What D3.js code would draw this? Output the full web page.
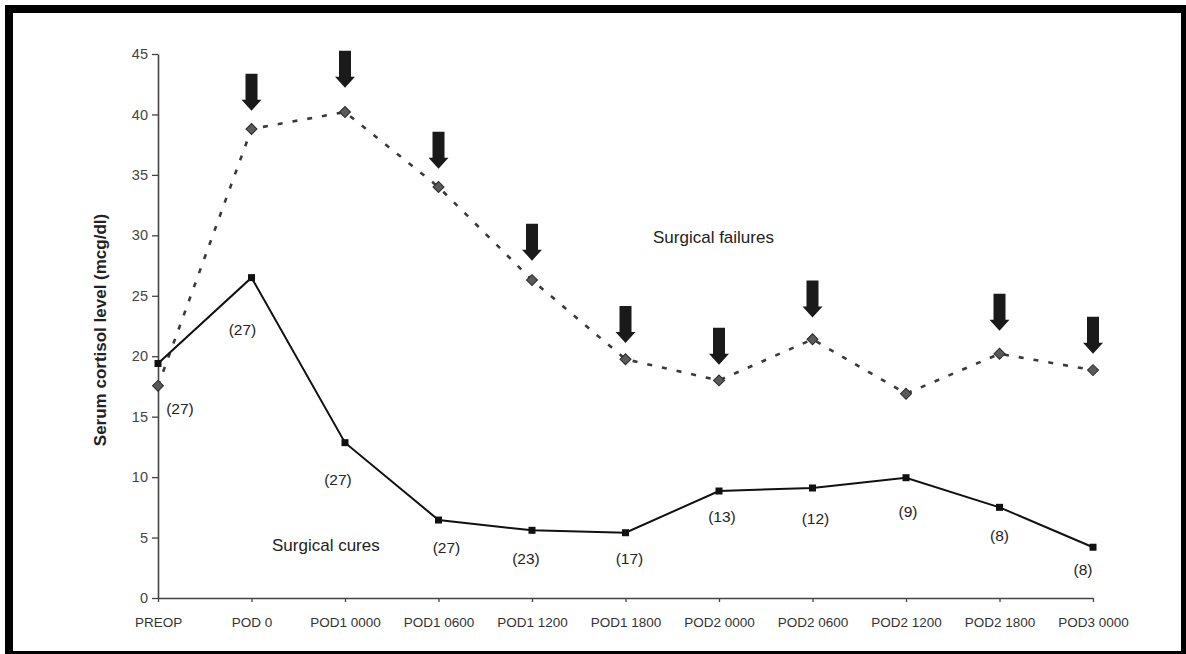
<!DOCTYPE html>
<html>
<head>
<meta charset="utf-8">
<script src="https://cdn.jsdelivr.net/npm/d3@7"></script>
<style>
  body { margin: 0; background: #fff; }
  svg text { font-family: "Liberation Sans", Arial, sans-serif; }
</style>
</head>
<body>
<div id="chart"></div>
<script>
// time points on the x axis
var categories = ["PREOP", "POD 0", "POD1 0000", "POD1 0600", "POD1 1200", "POD1 1800",
                  "POD2 0000", "POD2 0600", "POD2 1200", "POD2 1800", "POD3 0000"];
// serum cortisol (mcg/dl)
var cures    = [19.4, 26.5, 12.85, 6.45, 5.6, 5.4, 8.85, 9.1, 9.95, 7.5, 4.2];
var failures = [17.55, 38.8, 40.2, 34.0, 26.3, 19.75, 18.0, 21.4, 16.9, 20.2, 18.85];
// number of patients shown under the cures line
var cureCounts = [27, 27, 27, 27, 23, 17, 13, 12, 9, 8, 8];
// arrows over the failures line: category and level of the tip
var arrowCats = ["POD 0", "POD1 0000", "POD1 0600", "POD1 1200", "POD1 1800",
                 "POD2 0000", "POD2 0600", "POD2 1800", "POD3 0000"];
var arrowTips = [40.3, 42.2, 35.5, 27.9, 21.1, 19.3, 23.2, 22.1, 20.2];
var yTicks = [0, 5, 10, 15, 20, 25, 30, 35, 40, 45];

// label placement (pixels from the cures point)
var countOffsets = [[22, 45], [-9, 52], [-7, 37], [8, 28], [-6, 28], [4, 26],
                    [3, 26], [3, 31], [2, 34], [0, 28], [-10, 22]];

var W = 1186, H = 654;
var svg = d3.select("#chart").append("svg").attr("width", W).attr("height", H);

// frame
svg.append("rect").attr("x", 9).attr("y", 9).attr("width", 1176).attr("height", 646)
  .attr("fill", "none").attr("stroke", "#000").attr("stroke-width", 8);

var x = d3.scalePoint().domain(categories).range([158, 1093]).padding(0);
var y = d3.scaleLinear().domain([0, 45]).range([598, 54]);

// axes
var gx = svg.append("g").attr("transform", "translate(0,598)")
  .call(d3.axisBottom(x).tickSize(4).tickSizeOuter(0).tickPadding(15));
gx.selectAll("text").attr("font-size", "13.5px").attr("fill", "#333");

var gy = svg.append("g").attr("transform", "translate(158,0)")
  .call(d3.axisLeft(y).tickValues(yTicks).tickSize(6).tickSizeOuter(0).tickPadding(4));
gy.selectAll("text").attr("font-size", "14.5px").attr("fill", "#444");

[gx, gy].forEach(function (g) {
  g.select(".domain").attr("stroke", "#444").attr("stroke-width", 1.6);
  g.selectAll(".tick line").attr("stroke", "#444").attr("stroke-width", 1.3);
});

svg.append("text")
  .attr("transform", "translate(106,330) rotate(-90)")
  .attr("text-anchor", "middle")
  .attr("font-size", "17px").attr("font-weight", "bold").attr("fill", "#222")
  .text("Serum cortisol level (mcg/dl)");

var line = d3.line().x(function (d, i) { return x(categories[i]); }).y(function (d) { return y(d); });

// surgical failures: dotted line with diamonds
svg.append("path").datum(failures).attr("d", line)
  .attr("fill", "none").attr("stroke", "#3a3a3a").attr("stroke-width", 2.6)
  .attr("stroke-dasharray", "5,10");

svg.selectAll(".dia").data(failures).enter().append("path")
  .attr("class", "dia")
  .attr("d", d3.symbol().type(d3.symbolSquare).size(60))
  .attr("transform", function (d, i) { return "translate(" + x(categories[i]) + "," + y(d) + ") rotate(45)"; })
  .attr("fill", "#5a5a5a").attr("stroke", "#2a2a2a").attr("stroke-width", 1);

// surgical cures: solid line with squares
svg.append("path").datum(cures).attr("d", line)
  .attr("fill", "none").attr("stroke", "#111").attr("stroke-width", 2);

svg.selectAll(".sq").data(cures).enter().append("rect")
  .attr("class", "sq")
  .attr("x", function (d, i) { return x(categories[i]) - 3.5; })
  .attr("y", function (d) { return y(d) - 3.5; })
  .attr("width", 7).attr("height", 7)
  .attr("fill", "#111");

// patient counts
svg.selectAll(".cnt").data(cureCounts).enter().append("text")
  .attr("class", "cnt")
  .attr("x", function (d, i) { return x(categories[i]) + countOffsets[i][0]; })
  .attr("y", function (d, i) { return y(cures[i]) + countOffsets[i][1]; })
  .attr("dy", "0.35em")
  .attr("text-anchor", "middle")
  .attr("font-size", "15.5px").attr("fill", "#222")
  .text(function (d) { return "(" + d + ")"; });

// arrows
var arrowShape = "M-6,-37 L6,-37 L6,-11 L10,-11 L0,0 L-10,-11 L-6,-11 Z";
svg.selectAll(".arrow").data(arrowCats).enter().append("path")
  .attr("class", "arrow")
  .attr("d", arrowShape)
  .attr("transform", function (d, i) { return "translate(" + x(d) + "," + y(arrowTips[i]) + ")"; })
  .attr("fill", "#1a1a1a");

// series labels
svg.append("text").attr("x", 653).attr("y", 237).attr("dy", "0.35em")
  .attr("font-size", "17px").attr("fill", "#222").text("Surgical failures");
svg.append("text").attr("x", 272).attr("y", 545).attr("dy", "0.35em")
  .attr("font-size", "17px").attr("fill", "#222").text("Surgical cures");
</script>
</body>
</html>
